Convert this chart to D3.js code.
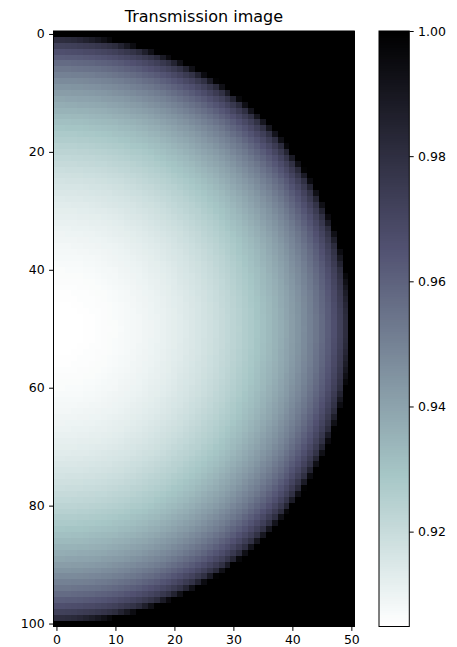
<!DOCTYPE html>
<html>
<head>
<meta charset="utf-8">
<script src="https://cdn.jsdelivr.net/npm/d3@7"></script>
<style>
  html, body { margin: 0; padding: 0; background: #fff; }
  svg { display: block; font-family: "DejaVu Sans", sans-serif; }
</style>
</head>
<body>
<div id="chart"></div>
<script>
// Transmission through a sphere: radial profile (transmission vs. radius in pixels)
const profileRadius = [0,1,2,3,4,5,6,7,8,9,10,11,12,13,14,15,16,17,18,19,20,21,22,23,24,25,
  26,27,28,29,30,31,32,33,34,35,36,37,38,39,40,41,42,43,44,45,46,47,48,49,50];
const profileTransmission = [0.90484,0.90486,0.90491,0.90500,0.90513,0.90529,0.90549,0.90573,0.90600,0.90632,
  0.90667,0.90706,0.90748,0.90795,0.90846,0.90901,0.90960,0.91024,0.91092,0.91164,
  0.91242,0.91323,0.91410,0.91502,0.91600,0.91704,0.91812,0.91927,0.92048,0.92176,
  0.92312,0.92454,0.92604,0.92763,0.92931,0.93108,0.93296,0.93496,0.93708,0.93935,
  0.94176,0.94437,0.94719,0.95025,0.95361,0.95735,0.96157,0.96646,0.97239,0.98030,1.00000];

// Image grid
const nRows = 101;
const nCols = 51;
const centerRow = 50;
const centerCol = 0;
const sphereRadius = 50;

// Tick labels
const xTicks = [0, 10, 20, 30, 40, 50];
const yTicks = [0, 20, 40, 60, 80, 100];
const cbTicks = [0.92, 0.94, 0.96, 0.98, 1.00];
const titleText = "Transmission image";

// Layout
const W = 457, H = 647;
const img = { left: 53.5, right: 354.3, top: 31, bottom: 626.5 };
const cb = { left: 379, right: 409.3, top: 31, bottom: 626.5 };
const tickLen = 4.4, tickPad = 4.4, fontSize = 12.5;

// Cell values from the radial profile
const profile = d3.scaleLinear().domain(profileRadius).range(profileTransmission).clamp(true);
const cells = [];
for (let r = 0; r < nRows; r++) {
  for (let c = 0; c < nCols; c++) {
    const dist = Math.hypot(c - centerCol, r - centerRow);
    const v = dist < sphereRadius ? profile(dist) : 1.0;
    cells.push({ row: r, col: c, value: v });
  }
}
const vmin = d3.min(cells, d => d.value);
const vmax = d3.max(cells, d => d.value);

// bone colormap (reversed), quantised to 256 levels
const boneR = d3.scaleLinear().domain([0, 0.746032, 1]).range([0, 0.652778, 1]);
const boneG = d3.scaleLinear().domain([0, 0.365079, 0.746032, 1]).range([0, 0.319444, 0.777778, 1]);
const boneB = d3.scaleLinear().domain([0, 0.365079, 1]).range([0, 0.444444, 1]);
const norm = d3.scaleLinear().domain([vmin, vmax]).range([0, 1]).clamp(true);
function boneRColor(v) {
  let idx = Math.floor(norm(v) * 256);
  if (idx > 255) idx = 255;
  if (idx < 0) idx = 0;
  const s = 1 - idx / 255;
  return d3.rgb(Math.round(boneR(s) * 255), Math.round(boneG(s) * 255), Math.round(boneB(s) * 255)).formatHex();
}

const svg = d3.select("#chart").append("svg")
  .attr("width", W).attr("height", H);

const x = d3.scaleLinear().domain([-0.5, nCols - 0.5]).range([img.left, img.right]);
const y = d3.scaleLinear().domain([-0.5, nRows - 0.5]).range([img.top, img.bottom]);

// Image cells
svg.append("g")
  .attr("shape-rendering", "crispEdges")
  .selectAll("rect")
  .data(cells)
  .join("rect")
  .attr("x", d => x(d.col - 0.5))
  .attr("y", d => y(d.row - 0.5))
  .attr("width", x(1) - x(0) + 0.3)
  .attr("height", y(1) - y(0) + 0.3)
  .attr("fill", d => boneRColor(d.value));

// Spines
svg.append("rect")
  .attr("x", img.left).attr("y", img.top)
  .attr("width", img.right - img.left).attr("height", img.bottom - img.top)
  .attr("fill", "none").attr("stroke", "#000").attr("stroke-width", 1);

function styleAxis(g) {
  g.select(".domain").remove();
  g.selectAll(".tick line").attr("stroke", "#000").attr("stroke-width", 1);
  g.selectAll(".tick text").attr("fill", "#000")
    .style("font-size", fontSize + "px")
    .style("font-family", "'DejaVu Sans', sans-serif");
}

svg.append("g")
  .attr("transform", `translate(${img.left},0)`)
  .call(d3.axisLeft(y).tickValues(yTicks).tickFormat(d3.format("d")).tickSize(tickLen).tickPadding(tickPad))
  .call(styleAxis);

svg.append("g")
  .attr("transform", `translate(0,${img.bottom})`)
  .call(d3.axisBottom(x).tickValues(xTicks).tickFormat(d3.format("d")).tickSize(tickLen).tickPadding(tickPad))
  .call(styleAxis);

// Title
svg.append("text")
  .attr("x", (img.left + img.right) / 2)
  .attr("y", 22)
  .attr("text-anchor", "middle")
  .style("font-size", "16px")
  .attr("fill", "#000")
  .text(titleText);

// Colorbar
const cbScale = d3.scaleLinear().domain([vmin, vmax]).range([cb.bottom, cb.top]);
const nSteps = 256;
const steps = d3.range(nSteps).map(i => vmin + (vmax - vmin) * (i + 0.5) / nSteps);
const stepH = (cb.bottom - cb.top) / nSteps;
svg.append("g")
  .attr("shape-rendering", "crispEdges")
  .selectAll("rect")
  .data(steps)
  .join("rect")
  .attr("x", cb.left)
  .attr("width", cb.right - cb.left)
  .attr("y", d => cbScale(d) - stepH / 2)
  .attr("height", stepH + 0.5)
  .attr("fill", d => boneRColor(d));

svg.append("rect")
  .attr("x", cb.left).attr("y", cb.top)
  .attr("width", cb.right - cb.left).attr("height", cb.bottom - cb.top)
  .attr("fill", "none").attr("stroke", "#000").attr("stroke-width", 1);

svg.append("g")
  .attr("transform", `translate(${cb.right},0)`)
  .call(d3.axisRight(cbScale).tickValues(cbTicks).tickFormat(d3.format(".2f")).tickSize(tickLen).tickPadding(tickPad))
  .call(styleAxis);
</script>
</body>
</html>
